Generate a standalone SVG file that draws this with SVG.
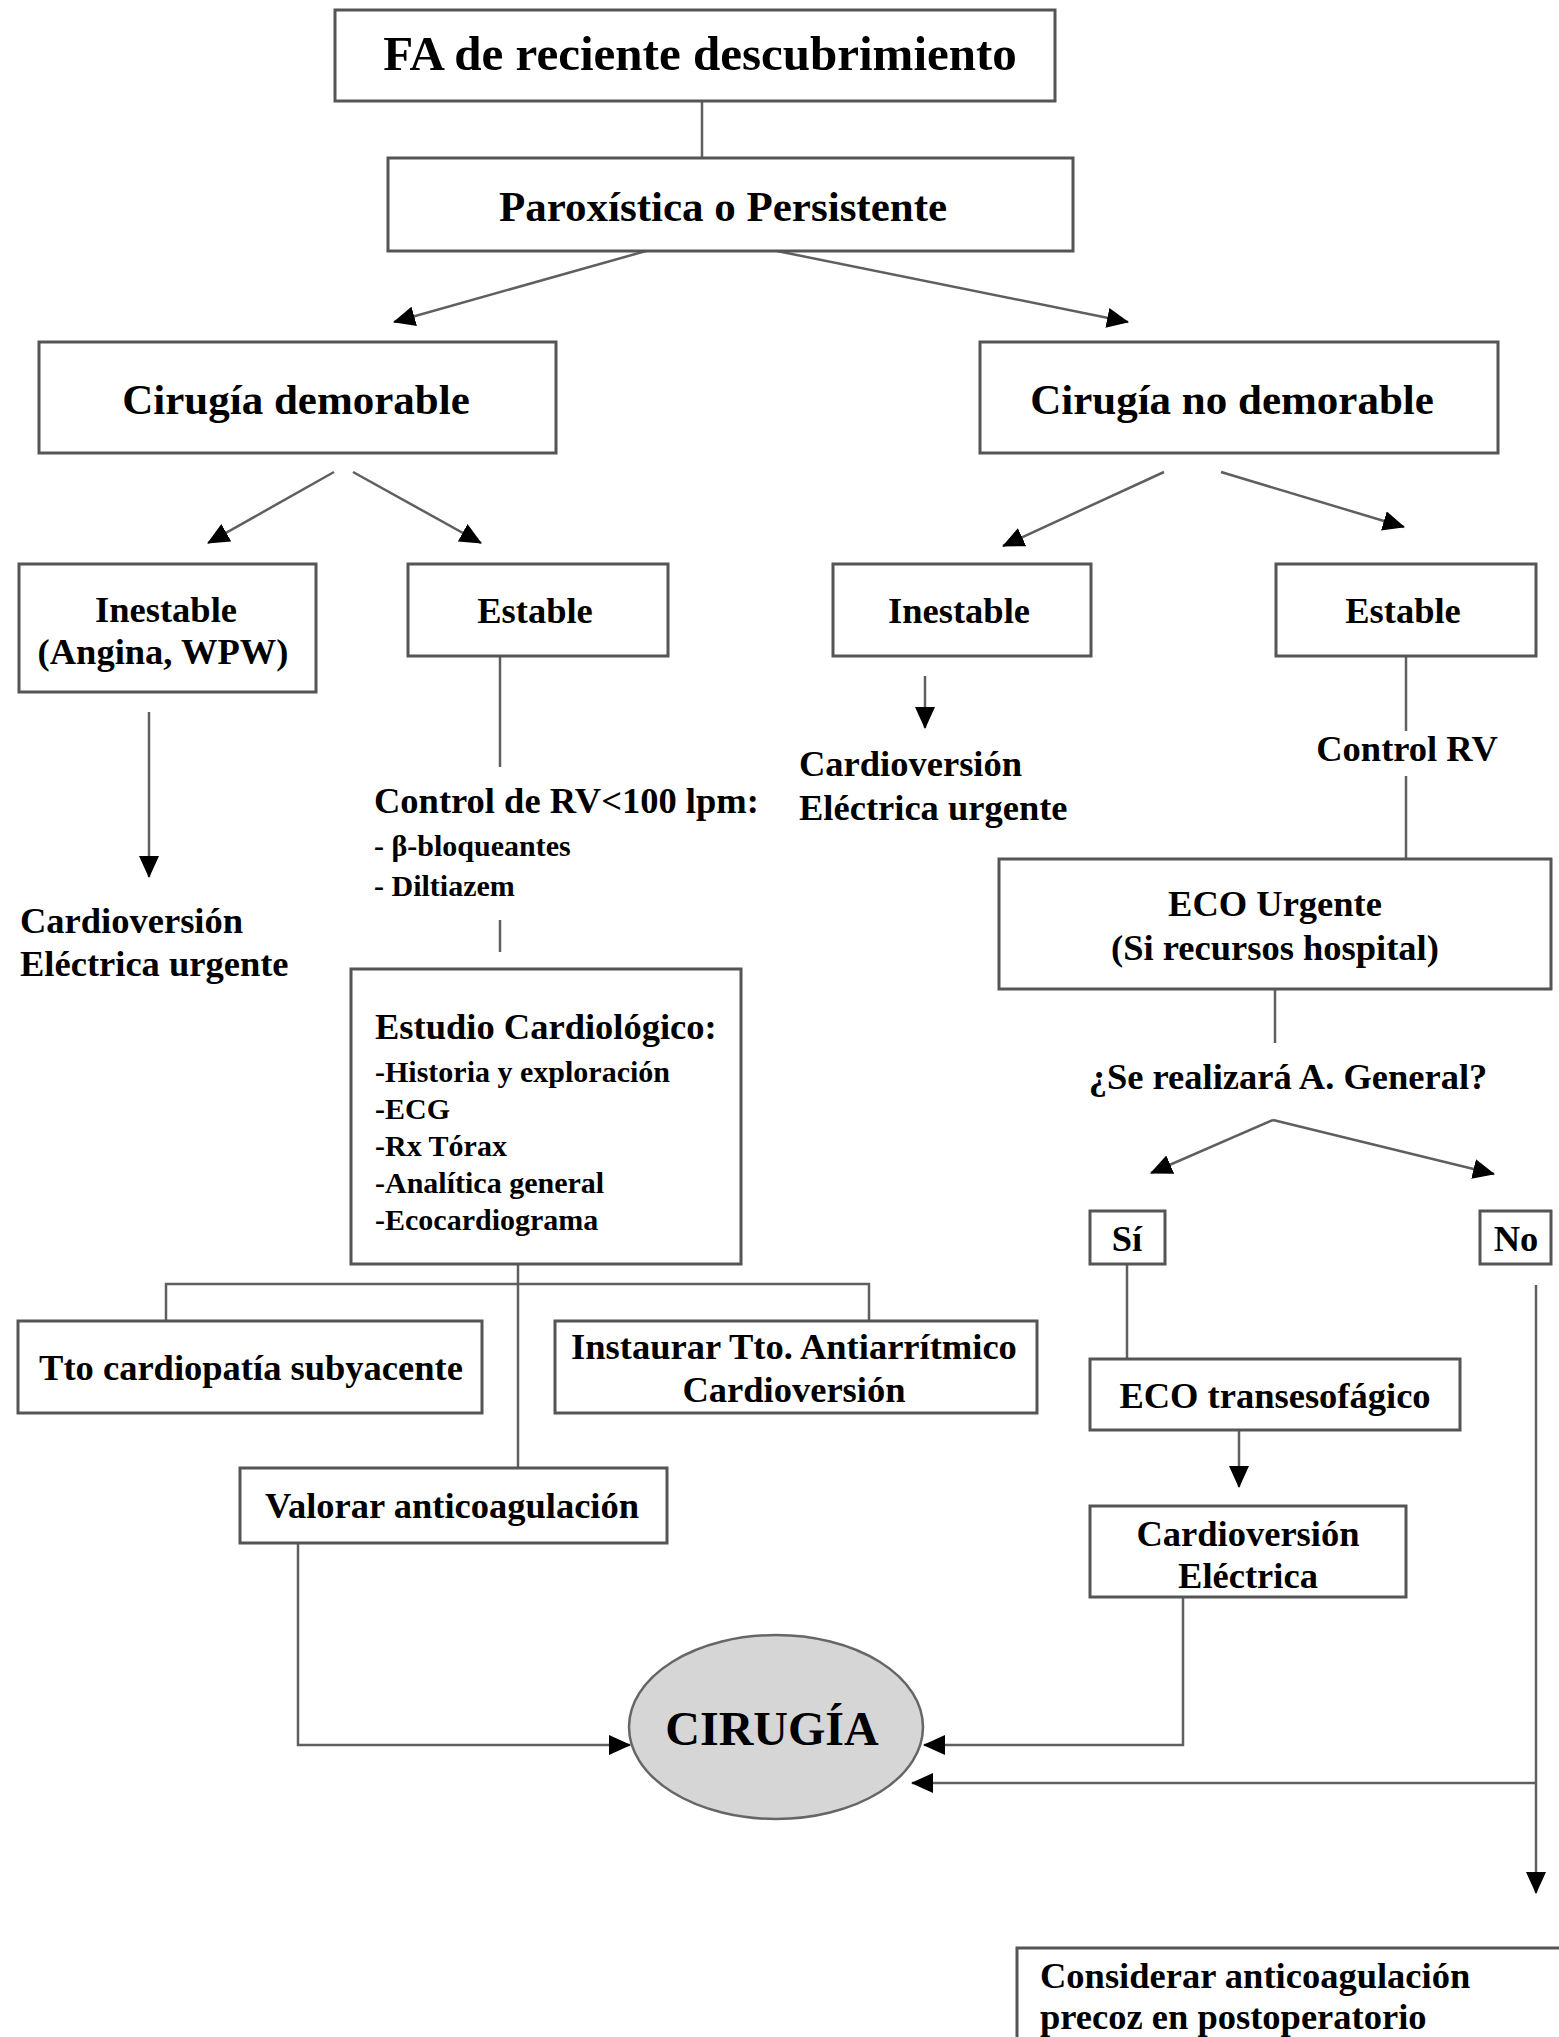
<svg xmlns="http://www.w3.org/2000/svg" width="1559" height="2037" viewBox="0 0 1559 2037">
<style>
  .box { fill: #ffffff; stroke: #555555; stroke-width: 3; }
  .ell { fill: #d6d6d6; stroke: #666666; stroke-width: 2.5; }
  .ln { fill: none; stroke: #5f5f5f; stroke-width: 2.5; }
  .arr { fill: none; stroke: #5f5f5f; stroke-width: 2.5; marker-end: url(#ah); }
  text { font-family: "Liberation Serif", "Times New Roman", serif; font-weight: bold; fill: #000; }
  .t49 { font-size: 49px; }
  .t43 { font-size: 43px; }
  .t37 { font-size: 36.5px; }
  .t30 { font-size: 30px; }
  .t48 { font-size: 48px; }
  .c { text-anchor: middle; }
</style>
<defs>
  <marker id="ah" viewBox="0 0 22 20" refX="21" refY="10" markerWidth="22" markerHeight="20" markerUnits="userSpaceOnUse" orient="auto">
    <path d="M0,0 L22,10 L0,20 z" fill="#000"/>
  </marker>
</defs>
<rect width="1559" height="2037" fill="#ffffff"/>

<g id="connectors">
  <line class="ln" x1="702" y1="101" x2="702" y2="158"/>
  <line class="arr" x1="646" y1="251" x2="394" y2="322"/>
  <line class="arr" x1="777" y1="251" x2="1128" y2="322"/>
  <line class="arr" x1="334" y1="472" x2="208" y2="543"/>
  <line class="arr" x1="353" y1="472" x2="481" y2="543"/>
  <line class="arr" x1="1164" y1="472" x2="1003" y2="546"/>
  <line class="arr" x1="1221" y1="472" x2="1404" y2="527"/>
  <line class="arr" x1="149" y1="712" x2="149" y2="877"/>
  <line class="ln" x1="500" y1="656" x2="500" y2="767"/>
  <line class="ln" x1="500" y1="920" x2="500" y2="952"/>
  <line class="arr" x1="925" y1="676" x2="925" y2="728"/>
  <line class="ln" x1="1406" y1="656" x2="1406" y2="731"/>
  <line class="ln" x1="1406" y1="776" x2="1406" y2="859"/>
  <line class="ln" x1="518" y1="1264" x2="518" y2="1468"/>
  <polyline class="ln" points="166,1321 166,1284 869,1284 869,1321"/>
  <line class="ln" x1="1275" y1="989" x2="1275" y2="1043"/>
  <line class="arr" x1="1273" y1="1120" x2="1151" y2="1173"/>
  <line class="arr" x1="1273" y1="1120" x2="1494" y2="1174"/>
  <line class="ln" x1="1127" y1="1264" x2="1127" y2="1359"/>
  <line class="arr" x1="1239" y1="1430" x2="1239" y2="1487"/>
  <polyline class="arr" points="298,1543 298,1745 630,1745"/>
  <polyline class="arr" points="1183,1597 1183,1745 924,1745"/>
  <line class="arr" x1="1536" y1="1285" x2="1536" y2="1893"/>
  <line class="arr" x1="1536" y1="1783" x2="912" y2="1783"/>
</g>

<g id="n-fa">
  <rect class="box" x="335" y="10" width="720" height="91"/>
  <text class="t49 c" x="700" y="70">FA de reciente descubrimiento</text>
</g>
<g id="n-paroxistica">
  <rect class="box" x="388" y="158" width="685" height="93"/>
  <text class="t43 c" x="723" y="221">Paroxística o Persistente</text>
</g>
<g id="n-demorable">
  <rect class="box" x="39" y="342" width="517" height="111"/>
  <text class="t43 c" x="296" y="414">Cirugía demorable</text>
</g>
<g id="n-nodemorable">
  <rect class="box" x="980" y="342" width="518" height="111"/>
  <text class="t43 c" x="1232" y="414">Cirugía no demorable</text>
</g>
<g id="n-inestable-l">
  <rect class="box" x="19" y="564" width="297" height="128"/>
  <text class="t37 c" x="166" y="622">Inestable</text>
  <text class="t37 c" x="163" y="664">(Angina, WPW)</text>
</g>
<g id="n-estable-l">
  <rect class="box" x="408" y="564" width="260" height="92"/>
  <text class="t37 c" x="535" y="623">Estable</text>
</g>
<g id="n-inestable-r">
  <rect class="box" x="833" y="564" width="258" height="92"/>
  <text class="t37 c" x="959" y="623">Inestable</text>
</g>
<g id="n-estable-r">
  <rect class="box" x="1276" y="564" width="260" height="92"/>
  <text class="t37 c" x="1403" y="623">Estable</text>
</g>
<g id="n-cve-l">
  <text class="t37" x="20" y="933">Cardioversión</text>
  <text class="t37" x="20" y="976">Eléctrica urgente</text>
</g>
<g id="n-control-rv100">
  <text class="t37" x="374" y="813">Control de RV&lt;100 lpm:</text>
  <text class="t30" x="374" y="856">- β-bloqueantes</text>
  <text class="t30" x="374" y="896">- Diltiazem</text>
</g>
<g id="n-cve-r">
  <text class="t37" x="799" y="776">Cardioversión</text>
  <text class="t37" x="799" y="820">Eléctrica urgente</text>
</g>
<g id="n-control-rv">
  <text class="t37 c" x="1407" y="761">Control RV</text>
</g>
<g id="n-eco-urgente">
  <rect class="box" x="999" y="859" width="552" height="130"/>
  <text class="t37 c" x="1275" y="916">ECO Urgente</text>
  <text class="t37 c" x="1275" y="960">(Si recursos hospital)</text>
</g>
<g id="n-estudio">
  <rect class="box" x="351" y="969" width="390" height="295"/>
  <text class="t37" x="375" y="1039">Estudio Cardiológico:</text>
  <text class="t30" x="375" y="1082">-Historia y exploración</text>
  <text class="t30" x="375" y="1119">-ECG</text>
  <text class="t30" x="375" y="1156">-Rx Tórax</text>
  <text class="t30" x="375" y="1193">-Analítica general</text>
  <text class="t30" x="375" y="1230">-Ecocardiograma</text>
</g>
<g id="n-pregunta">
  <text class="t37 c" x="1288" y="1089">¿Se realizará A. General?</text>
</g>
<g id="n-si">
  <rect class="box" x="1090" y="1211" width="75" height="53"/>
  <text class="t37 c" x="1127" y="1251">Sí</text>
</g>
<g id="n-no">
  <rect class="box" x="1480" y="1211" width="71" height="53"/>
  <text class="t37 c" x="1516" y="1251">No</text>
</g>
<g id="n-tto">
  <rect class="box" x="18" y="1321" width="464" height="92"/>
  <text class="t37 c" x="251" y="1380">Tto cardiopatía subyacente</text>
</g>
<g id="n-instaurar">
  <rect class="box" x="555" y="1321" width="482" height="92"/>
  <text class="t37 c" x="794" y="1359">Instaurar Tto. Antiarrítmico</text>
  <text class="t37 c" x="794" y="1402">Cardioversión</text>
</g>
<g id="n-eco-tee">
  <rect class="box" x="1090" y="1359" width="370" height="71"/>
  <text class="t37 c" x="1275" y="1408">ECO transesofágico</text>
</g>
<g id="n-valorar">
  <rect class="box" x="240" y="1468" width="427" height="75"/>
  <text class="t37 c" x="452" y="1518">Valorar anticoagulación</text>
</g>
<g id="n-cve-electrica">
  <rect class="box" x="1090" y="1506" width="316" height="91"/>
  <text class="t37 c" x="1248" y="1546">Cardioversión</text>
  <text class="t37 c" x="1248" y="1588">Eléctrica</text>
</g>
<g id="n-cirugia">
  <ellipse class="ell" cx="776" cy="1727" rx="147" ry="92"/>
  <text class="t48 c" x="772" y="1745">CIRUGÍA</text>
</g>
<g id="n-considerar">
  <rect class="box" x="1017" y="1948" width="600" height="150"/>
  <text class="t37" x="1040" y="1988">Considerar anticoagulación</text>
  <text class="t37" x="1040" y="2029">precoz en postoperatorio</text>
</g>
</svg>
